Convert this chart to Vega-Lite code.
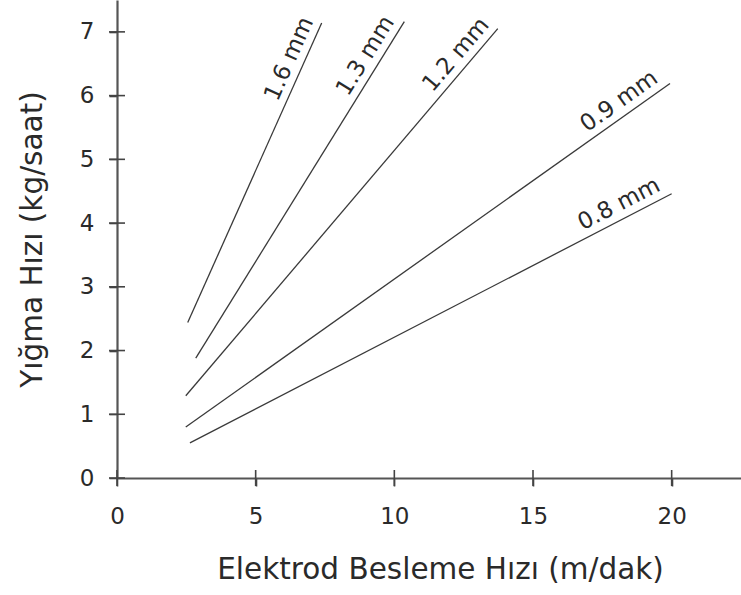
{
  "$schema": "https://vega.github.io/schema/vega-lite/v6.json",
  "width": 624,
  "height": 478,
  "autosize": {"type": "none"},
  "padding": {"left": 117, "top": 0, "right": 0, "bottom": 117},
  "config": {"view": {"stroke": null}, "font": "DejaVu Sans"},
  "datasets": {
    "lines": [
      {"wire": "1.6 mm", "speed": 2.55, "rate": 2.44},
      {"wire": "1.6 mm", "speed": 7.38, "rate": 7.14},
      {"wire": "1.3 mm", "speed": 2.84, "rate": 1.88},
      {"wire": "1.3 mm", "speed": 10.36, "rate": 7.16},
      {"wire": "1.2 mm", "speed": 2.48, "rate": 1.29},
      {"wire": "1.2 mm", "speed": 13.73, "rate": 7.05},
      {"wire": "0.9 mm", "speed": 2.48, "rate": 0.80},
      {"wire": "0.9 mm", "speed": 19.94, "rate": 6.19},
      {"wire": "0.8 mm", "speed": 2.63, "rate": 0.55},
      {"wire": "0.8 mm", "speed": 20.0, "rate": 4.46}
    ],
    "labels": [
      {"wire": "1.6 mm", "speed": 6.70, "rate": 6.48},
      {"wire": "1.3 mm", "speed": 9.42, "rate": 6.50},
      {"wire": "1.2 mm", "speed": 12.63, "rate": 6.49},
      {"wire": "0.9 mm", "speed": 18.42, "rate": 5.72},
      {"wire": "0.8 mm", "speed": 18.35, "rate": 4.09}
    ],
    "xticks": [
      {"speed": 0, "rate": 0}, {"speed": 5, "rate": 0}, {"speed": 10, "rate": 0},
      {"speed": 15, "rate": 0}, {"speed": 20, "rate": 0}
    ],
    "yticks": [
      {"speed": 0, "rate": 0}, {"speed": 0, "rate": 1}, {"speed": 0, "rate": 2}, {"speed": 0, "rate": 3},
      {"speed": 0, "rate": 4}, {"speed": 0, "rate": 5}, {"speed": 0, "rate": 6}, {"speed": 0, "rate": 7}
    ]
  },
  "encoding": {
    "x": {
      "field": "speed", "type": "quantitative",
      "scale": {"domain": [0, 22.5], "nice": false, "zero": false},
      "axis": {
        "orient": "bottom", "values": [0, 5, 10, 15, 20], "format": "d", "grid": false, "labelFlush": false,
        "domainColor": "#555", "domainWidth": 2.2, "tickColor": "#444", "tickWidth": 1.6, "tickSize": 8,
        "labelFont": "DejaVu Sans", "labelFontSize": 23, "labelColor": "#2a2a2a", "labelPadding": 19,
        "title": "Elektrod Besleme Hızı (m/dak)", "titleFont": "DejaVu Sans", "titleFontSize": 29.5,
        "titleFontWeight": "normal", "titleColor": "#2a2a2a", "titlePadding": 27, "titleX": 323
      }
    },
    "y": {
      "field": "rate", "type": "quantitative",
      "scale": {"domain": [0, 7.5], "nice": false, "zero": false},
      "axis": {
        "orient": "left", "values": [0, 1, 2, 3, 4, 5, 6, 7], "format": "d", "grid": false, "labelFlush": false,
        "domainColor": "#555", "domainWidth": 2.2, "tickColor": "#444", "tickWidth": 1.6, "tickSize": 8,
        "labelFont": "DejaVu Sans", "labelFontSize": 23, "labelColor": "#2a2a2a", "labelPadding": 15,
        "title": "Yığma Hızı (kg/saat)", "titleFont": "DejaVu Sans", "titleFontSize": 29.5,
        "titleFontWeight": "normal", "titleColor": "#2a2a2a", "titlePadding": 32
      }
    }
  },
  "layer": [
    {
      "data": {"name": "xticks"},
      "mark": {"type": "tick", "orient": "vertical", "size": 16, "thickness": 1.6, "color": "#444", "opacity": 1}
    },
    {
      "data": {"name": "yticks"},
      "mark": {"type": "tick", "orient": "horizontal", "size": 16, "thickness": 1.6, "color": "#444", "opacity": 1}
    },
    {
      "data": {"name": "lines"},
      "mark": {"type": "line", "color": "#3a3a3a", "strokeWidth": 1.3},
      "encoding": {"detail": {"field": "wire"}}
    },
    {
      "data": {"name": "labels"},
      "transform": [{"filter": "datum.wire == '1.6 mm'"}],
      "mark": {"type": "text", "angle": -65.9, "align": "center", "baseline": "alphabetic", "dy": -8, "fontSize": 23, "color": "#2a2a2a", "font": "DejaVu Sans"},
      "encoding": {"text": {"field": "wire"}}
    },
    {
      "data": {"name": "labels"},
      "transform": [{"filter": "datum.wire == '1.3 mm'"}],
      "mark": {"type": "text", "angle": -58.1, "align": "center", "baseline": "alphabetic", "dy": -8, "fontSize": 23, "color": "#2a2a2a", "font": "DejaVu Sans"},
      "encoding": {"text": {"field": "wire"}}
    },
    {
      "data": {"name": "labels"},
      "transform": [{"filter": "datum.wire == '1.2 mm'"}],
      "mark": {"type": "text", "angle": -49.6, "align": "center", "baseline": "alphabetic", "dy": -8, "fontSize": 23, "color": "#2a2a2a", "font": "DejaVu Sans"},
      "encoding": {"text": {"field": "wire"}}
    },
    {
      "data": {"name": "labels"},
      "transform": [{"filter": "datum.wire == '0.9 mm'"}],
      "mark": {"type": "text", "angle": -35.4, "align": "center", "baseline": "alphabetic", "dy": -8, "fontSize": 23, "color": "#2a2a2a", "font": "DejaVu Sans"},
      "encoding": {"text": {"field": "wire"}}
    },
    {
      "data": {"name": "labels"},
      "transform": [{"filter": "datum.wire == '0.8 mm'"}],
      "mark": {"type": "text", "angle": -27.3, "align": "center", "baseline": "alphabetic", "dy": -8, "fontSize": 23, "color": "#2a2a2a", "font": "DejaVu Sans"},
      "encoding": {"text": {"field": "wire"}}
    }
  ]
}
